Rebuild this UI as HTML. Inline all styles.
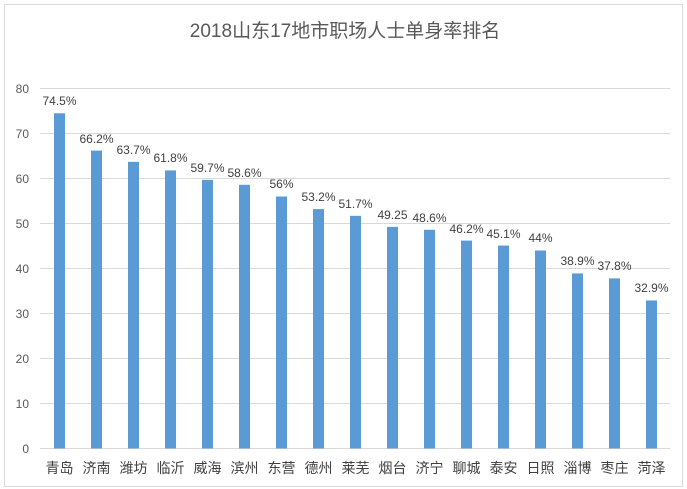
<!DOCTYPE html>
<html><head><meta charset="utf-8"><style>
body{margin:0;background:#fff;}
svg{display:block;font-family:"Liberation Sans","Noto Sans CJK SC",sans-serif;}
</style></head><body>
<svg width="687" height="489" viewBox="0 0 687 489">
<rect x="4.5" y="4.5" width="678" height="482" fill="#fff" stroke="#d9d9d9"/>
<text x="345" y="37" text-anchor="middle" font-size="19" fill="#595959">2018山东17地市职场人士单身率排名</text>
<g stroke="#d9d9d9" stroke-width="1">
<line x1="40" x2="670" y1="88.5" y2="88.5"/><line x1="40" x2="670" y1="133.5" y2="133.5"/>
<line x1="40" x2="670" y1="178.5" y2="178.5"/><line x1="40" x2="670" y1="223.5" y2="223.5"/>
<line x1="40" x2="670" y1="268.5" y2="268.5"/><line x1="40" x2="670" y1="313.5" y2="313.5"/>
<line x1="40" x2="670" y1="358.5" y2="358.5"/><line x1="40" x2="670" y1="403.5" y2="403.5"/>
<line x1="40" x2="670" y1="448.5" y2="448.5"/>
</g>
<g font-size="12" fill="#595959" text-anchor="end">
<text x="29" y="93">80</text><text x="29" y="138">70</text><text x="29" y="183">60</text>
<text x="29" y="228">50</text><text x="29" y="273">40</text><text x="29" y="318">30</text>
<text x="29" y="363">20</text><text x="29" y="408">10</text><text x="29" y="453">0</text>
</g>
<g fill="#5b9bd5">
<rect x="54" y="113.25" width="11" height="335.25"/>
<rect x="91" y="150.6" width="11" height="297.9"/>
<rect x="128" y="161.85" width="11" height="286.65"/>
<rect x="165" y="170.4" width="11" height="278.1"/>
<rect x="202" y="179.85" width="11" height="268.65"/>
<rect x="239" y="184.8" width="11" height="263.7"/>
<rect x="276" y="196.5" width="11" height="252"/>
<rect x="313" y="209.1" width="11" height="239.4"/>
<rect x="350" y="215.85" width="11" height="232.65"/>
<rect x="387" y="226.875" width="11" height="221.625"/>
<rect x="424" y="229.8" width="11" height="218.7"/>
<rect x="461" y="240.6" width="11" height="207.9"/>
<rect x="498" y="245.55" width="11" height="202.95"/>
<rect x="535" y="250.5" width="11" height="198"/>
<rect x="572" y="273.45" width="11" height="175.05"/>
<rect x="609" y="278.4" width="11" height="170.1"/>
<rect x="646" y="300.45" width="11" height="148.05"/>
</g>
<g font-size="12" fill="#404040" text-anchor="middle">
<text x="59.5" y="105">74.5%</text>
<text x="96.5" y="143">66.2%</text>
<text x="133.5" y="154">63.7%</text>
<text x="170.5" y="162">61.8%</text>
<text x="207.5" y="172">59.7%</text>
<text x="244.5" y="177">58.6%</text>
<text x="281.5" y="188">56%</text>
<text x="318.5" y="201">53.2%</text>
<text x="355.5" y="208">51.7%</text>
<text x="392.5" y="219">49.25</text>
<text x="429.5" y="222">48.6%</text>
<text x="466.5" y="233">46.2%</text>
<text x="503.5" y="238">45.1%</text>
<text x="540.5" y="242">44%</text>
<text x="577.5" y="265">38.9%</text>
<text x="614.5" y="270">37.8%</text>
<text x="651.5" y="292">32.9%</text>
</g>
<g font-size="14" fill="#404040" text-anchor="middle">
<text x="59.5" y="473">青岛</text><text x="96.5" y="473">济南</text><text x="133.5" y="473">潍坊</text>
<text x="170.5" y="473">临沂</text><text x="207.5" y="473">威海</text><text x="244.5" y="473">滨州</text>
<text x="281.5" y="473">东营</text><text x="318.5" y="473">德州</text><text x="355.5" y="473">莱芜</text>
<text x="392.5" y="473">烟台</text><text x="429.5" y="473">济宁</text><text x="466.5" y="473">聊城</text>
<text x="503.5" y="473">泰安</text><text x="540.5" y="473">日照</text><text x="577.5" y="473">淄博</text>
<text x="614.5" y="473">枣庄</text><text x="651.5" y="473">菏泽</text>
</g>
</svg>
</body></html>
